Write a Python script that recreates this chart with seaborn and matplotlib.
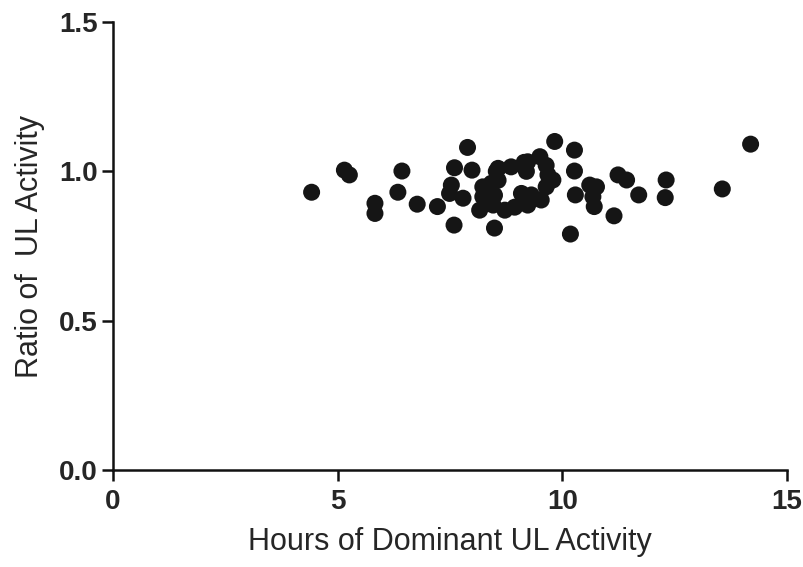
import matplotlib
matplotlib.use("Agg")
import matplotlib.pyplot as plt
import seaborn as sns
import pandas as pd

hours = [4.42, 5.15, 5.26, 5.83, 5.83, 6.43, 6.34, 6.77, 7.22, 7.59,
         7.89, 7.60, 7.99, 7.53, 7.49, 7.79, 8.16, 8.49, 8.57, 8.86,
         9.15, 8.23, 8.42, 8.57, 8.23, 8.49, 8.46, 8.72, 8.94, 9.09,
         8.53, 9.83, 10.27, 10.27, 10.29, 10.61, 10.76, 10.68, 10.71, 11.15,
         10.18, 11.24, 11.43, 11.70, 12.31, 12.29, 13.56, 14.19, 9.23, 9.50,
         9.68, 9.79, 9.64, 9.53, 9.31, 9.23, 9.20, 9.64]
ratio = [0.93, 1.004, 0.988, 0.893, 0.859, 1.001, 0.93, 0.89, 0.882, 0.82,
         1.080, 1.012, 1.004, 0.954, 0.926, 0.91, 0.87, 0.81, 1.01, 1.015,
         1.03, 0.948, 0.96, 0.97, 0.915, 0.92, 0.887, 0.87, 0.88, 0.926,
         1.0, 1.10, 1.071, 1.001, 0.921, 0.954, 0.948, 0.915, 0.882, 0.851,
         0.79, 0.988, 0.971, 0.921, 0.971, 0.912, 0.941, 1.091, 1.032, 1.049,
         0.988, 0.971, 0.948, 0.904, 0.921, 0.887, 1.0, 1.02]
x_ticks = [0, 5, 10, 15]
y_ticks = [0.0, 0.5, 1.0, 1.5]
y_tick_labels = ["0.0", "0.5", "1.0", "1.5"]

df = pd.DataFrame({"hours": hours, "ratio": ratio})

sns.set_style("ticks")
plt.rcParams["font.family"] = ["Liberation Sans", "DejaVu Sans"]

fig = plt.figure(figsize=(8.04, 5.67), dpi=100)
ax = fig.add_axes([113/804, 1-470/567, (787-113)/804, (470-22)/567])
sns.scatterplot(data=df, x="hours", y="ratio", ax=ax, color="#151515",
                s=150, edgecolor="none", linewidth=0, clip_on=False)
ax.set_xlim(0, 15)
ax.set_ylim(0, 1.5)
ax.set_xticks(x_ticks)
ax.set_yticks(y_ticks)
ax.set_yticklabels(y_tick_labels)
sns.despine(ax=ax)
for sp in ["left", "bottom"]:
    ax.spines[sp].set_linewidth(1.8)
    ax.spines[sp].set_color("#111111")
ax.tick_params(axis="both", direction="out", length=8, width=1.8, color="#111111",
               labelsize=20)
ax.tick_params(axis="x", pad=6)
ax.tick_params(axis="y", pad=3)
for lab in ax.get_xticklabels() + ax.get_yticklabels():
    lab.set_fontweight("bold")
ax.set_xlabel("Hours of Dominant UL Activity", fontsize=22, labelpad=8)
ax.set_ylabel("Ratio of  UL Activity", fontsize=22, labelpad=10)
fig.savefig("out.png", dpi=100)
